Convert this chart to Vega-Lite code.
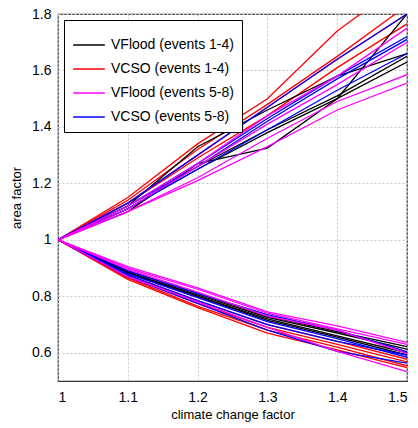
{
  "$schema": "https://vega.github.io/schema/vega-lite/v6.json",
  "width": 349,
  "height": 367,
  "autosize": {"type": "none"},
  "padding": {"left": 58, "top": 14, "right": 11, "bottom": 47},
  "config": {
    "font": "Liberation Sans",
    "view": {"stroke": "#333333", "strokeWidth": 1.2},
    "axis": {"labelFont": "Liberation Sans", "titleFont": "Liberation Sans", "labelColor": "#000", "titleColor": "#000", "titleFontWeight": "normal", "domain": false, "tickColor": "#333", "grid": true, "gridColor": "#c8c8c8", "gridDash": [2, 2], "gridWidth": 1}
  },
  "data": {"values": [
    {"s":"VCSO (events 1-4)","id":"R1u","x":1,"y":1},{"s":"VCSO (events 1-4)","id":"R1u","x":1.1,"y":1.15},{"s":"VCSO (events 1-4)","id":"R1u","x":1.2,"y":1.34},{"s":"VCSO (events 1-4)","id":"R1u","x":1.3,"y":1.5},{"s":"VCSO (events 1-4)","id":"R1u","x":1.4,"y":1.74},{"s":"VCSO (events 1-4)","id":"R1u","x":1.5,"y":1.92},
    {"s":"VCSO (events 1-4)","id":"R2u","x":1,"y":1},{"s":"VCSO (events 1-4)","id":"R2u","x":1.1,"y":1.14},{"s":"VCSO (events 1-4)","id":"R2u","x":1.2,"y":1.32},{"s":"VCSO (events 1-4)","id":"R2u","x":1.3,"y":1.48},{"s":"VCSO (events 1-4)","id":"R2u","x":1.4,"y":1.65},{"s":"VCSO (events 1-4)","id":"R2u","x":1.5,"y":1.83},
    {"s":"VCSO (events 1-4)","id":"R3u","x":1,"y":1},{"s":"VCSO (events 1-4)","id":"R3u","x":1.1,"y":1.13},{"s":"VCSO (events 1-4)","id":"R3u","x":1.2,"y":1.3},{"s":"VCSO (events 1-4)","id":"R3u","x":1.3,"y":1.47},{"s":"VCSO (events 1-4)","id":"R3u","x":1.4,"y":1.64},{"s":"VCSO (events 1-4)","id":"R3u","x":1.5,"y":1.8},
    {"s":"VCSO (events 1-4)","id":"R4u","x":1,"y":1},{"s":"VCSO (events 1-4)","id":"R4u","x":1.1,"y":1.13},{"s":"VCSO (events 1-4)","id":"R4u","x":1.2,"y":1.29},{"s":"VCSO (events 1-4)","id":"R4u","x":1.3,"y":1.44},{"s":"VCSO (events 1-4)","id":"R4u","x":1.4,"y":1.61},{"s":"VCSO (events 1-4)","id":"R4u","x":1.5,"y":1.765},
    {"s":"VFlood (events 1-4)","id":"K1u","x":1,"y":1},{"s":"VFlood (events 1-4)","id":"K1u","x":1.1,"y":1.12},{"s":"VFlood (events 1-4)","id":"K1u","x":1.2,"y":1.33},{"s":"VFlood (events 1-4)","id":"K1u","x":1.3,"y":1.46},{"s":"VFlood (events 1-4)","id":"K1u","x":1.4,"y":1.58},{"s":"VFlood (events 1-4)","id":"K1u","x":1.5,"y":1.66},
    {"s":"VFlood (events 1-4)","id":"K2u","x":1,"y":1},{"s":"VFlood (events 1-4)","id":"K2u","x":1.1,"y":1.1},{"s":"VFlood (events 1-4)","id":"K2u","x":1.2,"y":1.27},{"s":"VFlood (events 1-4)","id":"K2u","x":1.3,"y":1.325},{"s":"VFlood (events 1-4)","id":"K2u","x":1.4,"y":1.5},{"s":"VFlood (events 1-4)","id":"K2u","x":1.5,"y":1.8},
    {"s":"VFlood (events 1-4)","id":"K3u","x":1,"y":1},{"s":"VFlood (events 1-4)","id":"K3u","x":1.1,"y":1.11},{"s":"VFlood (events 1-4)","id":"K3u","x":1.2,"y":1.26},{"s":"VFlood (events 1-4)","id":"K3u","x":1.3,"y":1.39},{"s":"VFlood (events 1-4)","id":"K3u","x":1.4,"y":1.51},{"s":"VFlood (events 1-4)","id":"K3u","x":1.5,"y":1.65},
    {"s":"VFlood (events 1-4)","id":"K4u","x":1,"y":1},{"s":"VFlood (events 1-4)","id":"K4u","x":1.1,"y":1.11},{"s":"VFlood (events 1-4)","id":"K4u","x":1.2,"y":1.25},{"s":"VFlood (events 1-4)","id":"K4u","x":1.3,"y":1.38},{"s":"VFlood (events 1-4)","id":"K4u","x":1.4,"y":1.5},{"s":"VFlood (events 1-4)","id":"K4u","x":1.5,"y":1.63},
    {"s":"VCSO (events 5-8)","id":"B1u","x":1,"y":1},{"s":"VCSO (events 5-8)","id":"B1u","x":1.1,"y":1.13},{"s":"VCSO (events 5-8)","id":"B1u","x":1.2,"y":1.3},{"s":"VCSO (events 5-8)","id":"B1u","x":1.3,"y":1.47},{"s":"VCSO (events 5-8)","id":"B1u","x":1.4,"y":1.64},{"s":"VCSO (events 5-8)","id":"B1u","x":1.5,"y":1.8},
    {"s":"VCSO (events 5-8)","id":"B2u","x":1,"y":1},{"s":"VCSO (events 5-8)","id":"B2u","x":1.1,"y":1.12},{"s":"VCSO (events 5-8)","id":"B2u","x":1.2,"y":1.27},{"s":"VCSO (events 5-8)","id":"B2u","x":1.3,"y":1.43},{"s":"VCSO (events 5-8)","id":"B2u","x":1.4,"y":1.58},{"s":"VCSO (events 5-8)","id":"B2u","x":1.5,"y":1.72},
    {"s":"VCSO (events 5-8)","id":"B3u","x":1,"y":1},{"s":"VCSO (events 5-8)","id":"B3u","x":1.1,"y":1.12},{"s":"VCSO (events 5-8)","id":"B3u","x":1.2,"y":1.26},{"s":"VCSO (events 5-8)","id":"B3u","x":1.3,"y":1.42},{"s":"VCSO (events 5-8)","id":"B3u","x":1.4,"y":1.57},{"s":"VCSO (events 5-8)","id":"B3u","x":1.5,"y":1.71},
    {"s":"VCSO (events 5-8)","id":"B4u","x":1,"y":1},{"s":"VCSO (events 5-8)","id":"B4u","x":1.1,"y":1.11},{"s":"VCSO (events 5-8)","id":"B4u","x":1.2,"y":1.25},{"s":"VCSO (events 5-8)","id":"B4u","x":1.3,"y":1.39},{"s":"VCSO (events 5-8)","id":"B4u","x":1.4,"y":1.53},{"s":"VCSO (events 5-8)","id":"B4u","x":1.5,"y":1.66},
    {"s":"VFlood (events 5-8)","id":"M1u","x":1,"y":1},{"s":"VFlood (events 5-8)","id":"M1u","x":1.1,"y":1.12},{"s":"VFlood (events 5-8)","id":"M1u","x":1.2,"y":1.27},{"s":"VFlood (events 5-8)","id":"M1u","x":1.3,"y":1.44},{"s":"VFlood (events 5-8)","id":"M1u","x":1.4,"y":1.58},{"s":"VFlood (events 5-8)","id":"M1u","x":1.5,"y":1.75},
    {"s":"VFlood (events 5-8)","id":"M2u","x":1,"y":1},{"s":"VFlood (events 5-8)","id":"M2u","x":1.1,"y":1.11},{"s":"VFlood (events 5-8)","id":"M2u","x":1.2,"y":1.26},{"s":"VFlood (events 5-8)","id":"M2u","x":1.3,"y":1.41},{"s":"VFlood (events 5-8)","id":"M2u","x":1.4,"y":1.55},{"s":"VFlood (events 5-8)","id":"M2u","x":1.5,"y":1.7},
    {"s":"VFlood (events 5-8)","id":"M3u","x":1,"y":1},{"s":"VFlood (events 5-8)","id":"M3u","x":1.1,"y":1.1},{"s":"VFlood (events 5-8)","id":"M3u","x":1.2,"y":1.22},{"s":"VFlood (events 5-8)","id":"M3u","x":1.3,"y":1.36},{"s":"VFlood (events 5-8)","id":"M3u","x":1.4,"y":1.49},{"s":"VFlood (events 5-8)","id":"M3u","x":1.5,"y":1.585},
    {"s":"VFlood (events 5-8)","id":"M4u","x":1,"y":1},{"s":"VFlood (events 5-8)","id":"M4u","x":1.1,"y":1.1},{"s":"VFlood (events 5-8)","id":"M4u","x":1.2,"y":1.21},{"s":"VFlood (events 5-8)","id":"M4u","x":1.3,"y":1.33},{"s":"VFlood (events 5-8)","id":"M4u","x":1.4,"y":1.46},{"s":"VFlood (events 5-8)","id":"M4u","x":1.5,"y":1.555},
    {"s":"VCSO (events 1-4)","id":"R1d","x":1,"y":1},{"s":"VCSO (events 1-4)","id":"R1d","x":1.1,"y":0.86},{"s":"VCSO (events 1-4)","id":"R1d","x":1.2,"y":0.76},{"s":"VCSO (events 1-4)","id":"R1d","x":1.3,"y":0.67},{"s":"VCSO (events 1-4)","id":"R1d","x":1.4,"y":0.61},{"s":"VCSO (events 1-4)","id":"R1d","x":1.5,"y":0.547},
    {"s":"VCSO (events 1-4)","id":"R2d","x":1,"y":1},{"s":"VCSO (events 1-4)","id":"R2d","x":1.1,"y":0.865},{"s":"VCSO (events 1-4)","id":"R2d","x":1.2,"y":0.765},{"s":"VCSO (events 1-4)","id":"R2d","x":1.3,"y":0.68},{"s":"VCSO (events 1-4)","id":"R2d","x":1.4,"y":0.62},{"s":"VCSO (events 1-4)","id":"R2d","x":1.5,"y":0.554},
    {"s":"VCSO (events 1-4)","id":"R3d","x":1,"y":1},{"s":"VCSO (events 1-4)","id":"R3d","x":1.1,"y":0.87},{"s":"VCSO (events 1-4)","id":"R3d","x":1.2,"y":0.775},{"s":"VCSO (events 1-4)","id":"R3d","x":1.3,"y":0.69},{"s":"VCSO (events 1-4)","id":"R3d","x":1.4,"y":0.63},{"s":"VCSO (events 1-4)","id":"R3d","x":1.5,"y":0.568},
    {"s":"VCSO (events 1-4)","id":"R4d","x":1,"y":1},{"s":"VCSO (events 1-4)","id":"R4d","x":1.1,"y":0.875},{"s":"VCSO (events 1-4)","id":"R4d","x":1.2,"y":0.785},{"s":"VCSO (events 1-4)","id":"R4d","x":1.3,"y":0.7},{"s":"VCSO (events 1-4)","id":"R4d","x":1.4,"y":0.64},{"s":"VCSO (events 1-4)","id":"R4d","x":1.5,"y":0.577},
    {"s":"VFlood (events 1-4)","id":"K1d","x":1,"y":1},{"s":"VFlood (events 1-4)","id":"K1d","x":1.1,"y":0.89},{"s":"VFlood (events 1-4)","id":"K1d","x":1.2,"y":0.81},{"s":"VFlood (events 1-4)","id":"K1d","x":1.3,"y":0.73},{"s":"VFlood (events 1-4)","id":"K1d","x":1.4,"y":0.675},{"s":"VFlood (events 1-4)","id":"K1d","x":1.5,"y":0.622},
    {"s":"VFlood (events 1-4)","id":"K2d","x":1,"y":1},{"s":"VFlood (events 1-4)","id":"K2d","x":1.1,"y":0.885},{"s":"VFlood (events 1-4)","id":"K2d","x":1.2,"y":0.805},{"s":"VFlood (events 1-4)","id":"K2d","x":1.3,"y":0.725},{"s":"VFlood (events 1-4)","id":"K2d","x":1.4,"y":0.67},{"s":"VFlood (events 1-4)","id":"K2d","x":1.5,"y":0.613},
    {"s":"VFlood (events 1-4)","id":"K3d","x":1,"y":1},{"s":"VFlood (events 1-4)","id":"K3d","x":1.1,"y":0.88},{"s":"VFlood (events 1-4)","id":"K3d","x":1.2,"y":0.8},{"s":"VFlood (events 1-4)","id":"K3d","x":1.3,"y":0.72},{"s":"VFlood (events 1-4)","id":"K3d","x":1.4,"y":0.66},{"s":"VFlood (events 1-4)","id":"K3d","x":1.5,"y":0.6},
    {"s":"VFlood (events 1-4)","id":"K4d","x":1,"y":1},{"s":"VFlood (events 1-4)","id":"K4d","x":1.1,"y":0.885},{"s":"VFlood (events 1-4)","id":"K4d","x":1.2,"y":0.8},{"s":"VFlood (events 1-4)","id":"K4d","x":1.3,"y":0.715},{"s":"VFlood (events 1-4)","id":"K4d","x":1.4,"y":0.655},{"s":"VFlood (events 1-4)","id":"K4d","x":1.5,"y":0.592},
    {"s":"VCSO (events 5-8)","id":"B1d","x":1,"y":1},{"s":"VCSO (events 5-8)","id":"B1d","x":1.1,"y":0.89},{"s":"VCSO (events 5-8)","id":"B1d","x":1.2,"y":0.81},{"s":"VCSO (events 5-8)","id":"B1d","x":1.3,"y":0.735},{"s":"VCSO (events 5-8)","id":"B1d","x":1.4,"y":0.68},{"s":"VCSO (events 5-8)","id":"B1d","x":1.5,"y":0.604},
    {"s":"VCSO (events 5-8)","id":"B2d","x":1,"y":1},{"s":"VCSO (events 5-8)","id":"B2d","x":1.1,"y":0.88},{"s":"VCSO (events 5-8)","id":"B2d","x":1.2,"y":0.795},{"s":"VCSO (events 5-8)","id":"B2d","x":1.3,"y":0.71},{"s":"VCSO (events 5-8)","id":"B2d","x":1.4,"y":0.65},{"s":"VCSO (events 5-8)","id":"B2d","x":1.5,"y":0.584},
    {"s":"VCSO (events 5-8)","id":"B3d","x":1,"y":1},{"s":"VCSO (events 5-8)","id":"B3d","x":1.1,"y":0.875},{"s":"VCSO (events 5-8)","id":"B3d","x":1.2,"y":0.785},{"s":"VCSO (events 5-8)","id":"B3d","x":1.3,"y":0.7},{"s":"VCSO (events 5-8)","id":"B3d","x":1.4,"y":0.64},{"s":"VCSO (events 5-8)","id":"B3d","x":1.5,"y":0.592},
    {"s":"VCSO (events 5-8)","id":"B4d","x":1,"y":1},{"s":"VCSO (events 5-8)","id":"B4d","x":1.1,"y":0.87},{"s":"VCSO (events 5-8)","id":"B4d","x":1.2,"y":0.775},{"s":"VCSO (events 5-8)","id":"B4d","x":1.3,"y":0.68},{"s":"VCSO (events 5-8)","id":"B4d","x":1.4,"y":0.605},{"s":"VCSO (events 5-8)","id":"B4d","x":1.5,"y":0.563},
    {"s":"VFlood (events 5-8)","id":"M1d","x":1,"y":1},{"s":"VFlood (events 5-8)","id":"M1d","x":1.1,"y":0.905},{"s":"VFlood (events 5-8)","id":"M1d","x":1.2,"y":0.83},{"s":"VFlood (events 5-8)","id":"M1d","x":1.3,"y":0.745},{"s":"VFlood (events 5-8)","id":"M1d","x":1.4,"y":0.695},{"s":"VFlood (events 5-8)","id":"M1d","x":1.5,"y":0.637},
    {"s":"VFlood (events 5-8)","id":"M2d","x":1,"y":1},{"s":"VFlood (events 5-8)","id":"M2d","x":1.1,"y":0.9},{"s":"VFlood (events 5-8)","id":"M2d","x":1.2,"y":0.825},{"s":"VFlood (events 5-8)","id":"M2d","x":1.3,"y":0.74},{"s":"VFlood (events 5-8)","id":"M2d","x":1.4,"y":0.685},{"s":"VFlood (events 5-8)","id":"M2d","x":1.5,"y":0.63},
    {"s":"VFlood (events 5-8)","id":"M3d","x":1,"y":1},{"s":"VFlood (events 5-8)","id":"M3d","x":1.1,"y":0.895},{"s":"VFlood (events 5-8)","id":"M3d","x":1.2,"y":0.815},{"s":"VFlood (events 5-8)","id":"M3d","x":1.3,"y":0.73},{"s":"VFlood (events 5-8)","id":"M3d","x":1.4,"y":0.68},{"s":"VFlood (events 5-8)","id":"M3d","x":1.5,"y":0.598},
    {"s":"VFlood (events 5-8)","id":"M4d","x":1,"y":1},{"s":"VFlood (events 5-8)","id":"M4d","x":1.1,"y":0.87},{"s":"VFlood (events 5-8)","id":"M4d","x":1.2,"y":0.78},{"s":"VFlood (events 5-8)","id":"M4d","x":1.3,"y":0.69},{"s":"VFlood (events 5-8)","id":"M4d","x":1.4,"y":0.605},{"s":"VFlood (events 5-8)","id":"M4d","x":1.5,"y":0.533}
  ]},
  "layer": [
    {
      "mark": {"type": "line", "strokeWidth": 1.3, "clip": true},
      "encoding": {
        "x": {"field": "x", "type": "quantitative", "scale": {"domain": [1, 1.5], "nice": false, "zero": false},
          "axis": {"values": [1, 1.1, 1.2, 1.3, 1.4, 1.5], "format": "~g", "title": "climate change factor", "labelFontSize": 14, "titleFontSize": 13, "tickSize": 0, "labelPadding": 9, "titlePadding": 4}},
        "y": {"field": "y", "type": "quantitative", "scale": {"domain": [0.5, 1.8], "nice": false, "zero": false},
          "axis": {"values": [0.6, 0.8, 1, 1.2, 1.4, 1.6, 1.8], "format": "~g", "title": "area factor", "labelFontSize": 14, "titleFontSize": 13, "tickSize": 0, "labelPadding": 7, "titlePadding": 8}},
        "detail": {"field": "id"},
        "color": {"field": "s", "type": "nominal",
          "scale": {"domain": ["VFlood (events 1-4)", "VCSO (events 1-4)", "VFlood (events 5-8)", "VCSO (events 5-8)"], "range": ["#000000", "#ff0000", "#ff00ff", "#0000ff"]},
          "legend": {"title": null, "orient": "top-left", "offset": 6, "fillColor": "white", "strokeColor": "#000", "padding": 8, "labelFontSize": 14, "labelFont": "Liberation Sans", "labelColor": "#000", "symbolType": "stroke", "symbolSize": 1000, "symbolStrokeWidth": 1.5, "rowPadding": 0, "labelOffset": 5}}
      }
    }
  ]
}
